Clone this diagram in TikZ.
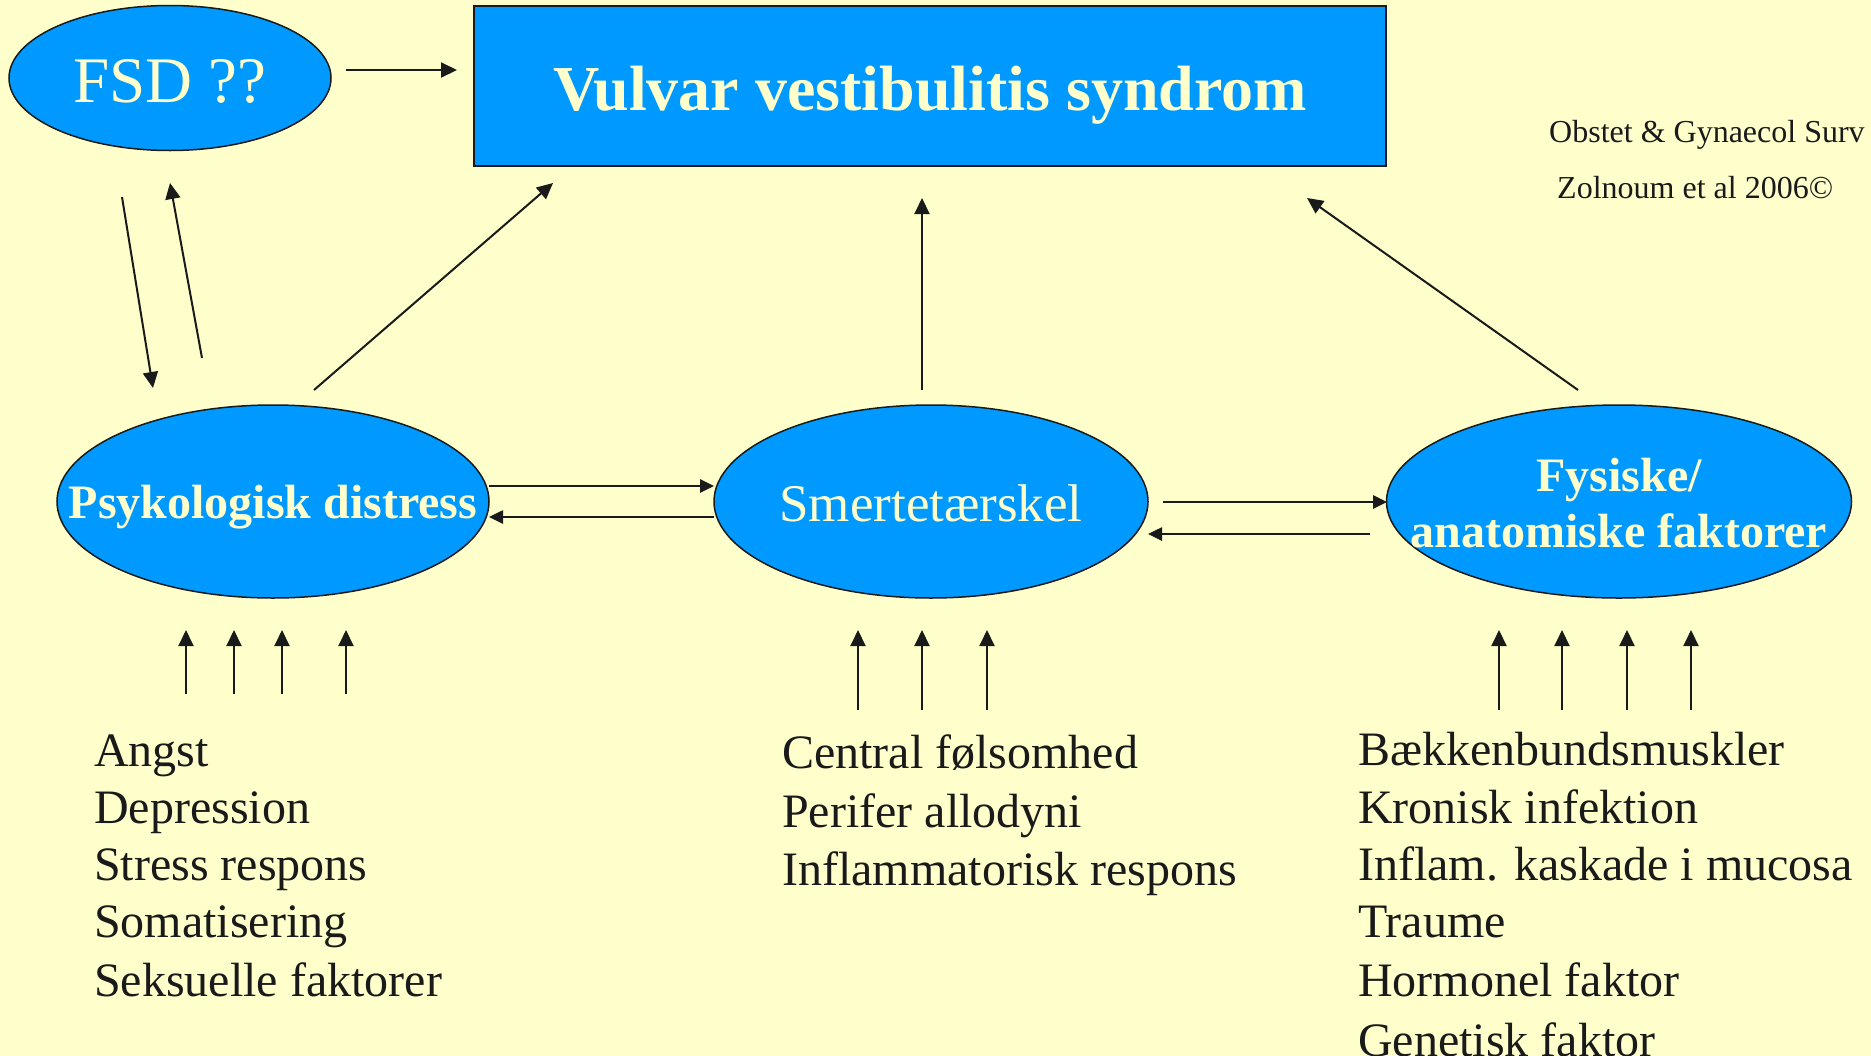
\documentclass[tikz,border=0pt]{standalone}
\usepackage{fontspec}
\setmainfont{Liberation Serif}
\usetikzlibrary{shapes.geometric,arrows.meta}
\definecolor{bg}{HTML}{FFFFCC}
\definecolor{blu}{HTML}{0099FF}
\definecolor{cream}{HTML}{FFFFCC}
\definecolor{ink}{HTML}{1A1A1A}
\begin{document}
\begin{tikzpicture}[x=1pt,y=-1pt,
  oval/.style={ellipse, draw=ink, line width=1.5pt, fill=blu, inner sep=0pt},
  lbl/.style={anchor=base, text=cream, inner sep=0pt},
  arr/.style={draw=ink, line width=2pt, -{Triangle[length=16pt,width=15pt]}},
  harr/.style={draw=ink, line width=2.6pt, -{Triangle[length=14pt,width=13pt]}},
  item/.style={anchor=base west, text=ink, font=\fontsize{48}{58}\selectfont, inner sep=0pt},
  cite/.style={anchor=base west, text=ink, font=\fontsize{32}{38}\selectfont, inner sep=0pt}]
\useasboundingbox (0,0) rectangle (1871,1055);
\clip (0,0) rectangle (1871,1055);
\fill[bg] (0,0) rectangle (1871,1055);

% main shapes
\node[oval, minimum width=322pt, minimum height=145pt] (fsd) at (170,78) {};
\node[draw=ink, line width=1.5pt, fill=blu, inner sep=0pt, minimum width=912pt, minimum height=160pt] (vvs) at (930,86) {};
\node[oval, minimum width=432pt, minimum height=193pt] (psy) at (273,501.5) {};
\node[oval, minimum width=434pt, minimum height=193pt] (smt) at (931,501.5) {};
\node[oval, minimum width=465pt, minimum height=193pt] (fys) at (1619,501.5) {};

% labels
\node[lbl, font=\fontsize{65}{70}\selectfont] (fsdT) at (170,102) {FSD ??};
\node[lbl, font=\fontsize{64}{70}\selectfont\bfseries] (vvsT) at (930,110) {Vulvar vestibulitis syndrom};
\node[lbl, font=\fontsize{48}{57}\selectfont\bfseries] (psyT) at (273,518) {Psykologisk distress};
\node[lbl, font=\fontsize{53}{60}\selectfont] (smtT) at (931,521) {Smertetærskel};
\node[lbl, font=\fontsize{48}{57}\selectfont\bfseries] (fysT1) at (1619,491) {Fysiske/};
\node[lbl, font=\fontsize{48}{57}\selectfont\bfseries] (fysT2) at (1619,547) {anatomiske faktorer};

% citation
\node[cite] (cit1) at (1549,142) {Obstet \& Gynaecol Surv};
\node[cite] (cit2) at (1557,198) {Zolnoum et al 2006©};

% connector endpoints
\coordinate (fsdR) at (346,70);   \coordinate (vvsL) at (457,70);
\coordinate (fsdD1) at (122,197); \coordinate (psyU1) at (153,388);
\coordinate (psyU2) at (202,358); \coordinate (fsdD2) at (170,183);
\coordinate (psyTR) at (314,390); \coordinate (vvsB1) at (553,183);
\coordinate (smtTop) at (922,390);  \coordinate (vvsB2) at (922,198);
\coordinate (fysTop) at (1578,390); \coordinate (vvsB3) at (1307,198);

\draw[arr] (fsdR) -- (vvsL);
\draw[arr] (fsdD1) -- (psyU1);
\draw[arr] (psyU2) -- (fsdD2);
\draw[arr] (psyTR) -- (vvsB1);
\draw[arr] (smtTop) -- (vvsB2);
\draw[arr] (fysTop) -- (vvsB3);

% horizontal pairs
\coordinate (a1) at (489,486);  \coordinate (a2) at (714,486);
\coordinate (b1) at (714,517);  \coordinate (b2) at (489,517);
\coordinate (c1) at (1163,502); \coordinate (c2) at (1387,502);
\coordinate (d1) at (1370,534); \coordinate (d2) at (1148,534);
\draw[harr] (a1) -- (a2);
\draw[harr] (b1) -- (b2);
\draw[harr] (c1) -- (c2);
\draw[harr] (d1) -- (d2);

% small up arrows
\foreach \x [count=\i] in {186,234,282,346} {
  \coordinate (pl\i) at (\x,694); \coordinate (pu\i) at (\x,630);
  \draw[arr] (pl\i) -- (pu\i);
}
\foreach \x [count=\i] in {858,922,987} {
  \coordinate (sl\i) at (\x,710); \coordinate (su\i) at (\x,630);
  \draw[arr] (sl\i) -- (su\i);
}
\foreach \x [count=\i] in {1499,1562,1627,1691} {
  \coordinate (fl\i) at (\x,710); \coordinate (fu\i) at (\x,630);
  \draw[arr] (fl\i) -- (fu\i);
}

% lists
\node[item] (l1) at (94,766) {Angst};
\node[item] (l2) at (94,823) {Depression};
\node[item] (l3) at (94,880) {Stress respons};
\node[item] (l4) at (94,937) {Somatisering};
\node[item] (l5) at (94,996) {Seksuelle faktorer};

\node[item] (m1) at (782,768) {Central følsomhed};
\node[item] (m2) at (782,827) {Perifer allodyni};
\node[item] (m3) at (782,885) {Inflammatorisk respons};

\node[item] (r1) at (1358,765) {Bækkenbundsmuskler};
\node[item] (r2) at (1358,823) {Kronisk infektion};
\node[item] (r3) at (1358,880) {Inflam. kaskade i mucosa};
\node[item] (r4) at (1358,937) {Traume};
\node[item] (r5) at (1358,996) {Hormonel faktor};
\node[item] (r6) at (1358,1056) {Genetisk faktor};
\end{tikzpicture}
\end{document}
